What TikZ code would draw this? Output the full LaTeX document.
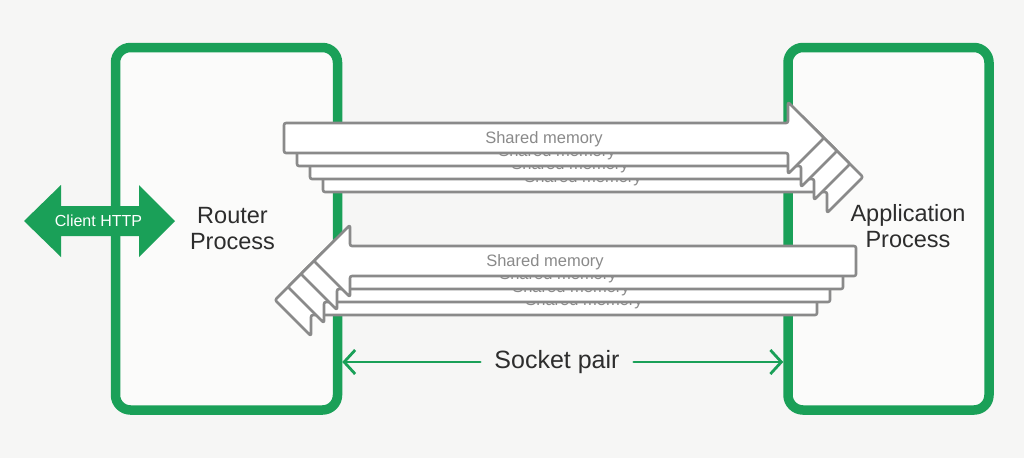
\documentclass[tikz,border=0pt]{standalone}
\usepackage{fontspec}
\setmainfont{Liberation Sans}
\usepackage{xcolor}
\usetikzlibrary{positioning,arrows.meta}

\definecolor{procgreen}{RGB}{26,160,88}
\definecolor{memgray}{RGB}{138,138,138}
\definecolor{pagebg}{RGB}{246,246,245}
\definecolor{boxbg}{RGB}{251,251,250}
\definecolor{labelgray}{RGB}{45,45,45}

\begin{document}
\begin{tikzpicture}[
    x=1pt, y=-1pt,
    procbox/.style={
        rectangle, draw=procgreen, line width=9.5pt, rounded corners=15pt,
        fill=boxbg
    },
    proclabel/.style={align=center, text=labelgray, font=\fontsize{23.5}{26}\selectfont},
    memarrow/.style={draw=memgray, fill=white, line width=2.6pt, rounded corners=2pt, line join=round},
    memtext/.style={text=memgray, font=\fontsize{16.5}{18}\selectfont, inner sep=0pt},
    sockarrow/.style={-{Straight Barb[length=11pt,width=24pt]}, draw=procgreen,
        line width=2.8pt, line cap=round, line join=round}
]
\fill[pagebg] (0,0) rectangle (1024,458);
\useasboundingbox (0,0) rectangle (1024,458);

% the two processes
\node[procbox, minimum width=222pt, minimum height=362.5pt] (router) at (226.5,228.75) {};
\node[procbox, minimum width=201pt, minimum height=362.5pt] (app) at (888.5,228.75) {};
\node[proclabel] (routerlbl) at (232.5,229) {Router\\Process};
\node[proclabel] (applbl) at (908,226) {Application\\Process};

% client side
\fill[procgreen] (24,221) -- (61,185) -- (61,206) -- (139,206) -- (139,185) -- (175,221)
    -- (139,257) -- (139,236) -- (61,236) -- (61,257) -- cycle;
\node[text=white, font=\fontsize{16}{18}\selectfont] (client) at (98.5,221) {Client HTTP};

% shared memory, router -> application
\foreach \k in {3,2,1,0} {
    \draw[memarrow, shift={(13*\k,13*\k)}] (284,123) -- (788,123) -- (788,102) -- (824,138)
        -- (788,174) -- (788,153) -- (284,153) -- cycle;
    \node[memtext] (toapp\k) at (544+13*\k,139+13*\k) {Shared memory};
}

% shared memory, application -> router
\foreach \k in {3,2,1,0} {
    \draw[memarrow, shift={(-13*\k,13*\k)}] (856,246) -- (350,246) -- (350,225) -- (314,261)
        -- (350,297) -- (350,276) -- (856,276) -- cycle;
    \node[memtext] (torouter\k) at (545+13*\k,262+13*\k) {Shared memory};
}

% socket pair
\node[text=labelgray, font=\fontsize{25}{28}\selectfont, inner xsep=14pt] (sock) at (557,362) {Socket pair};
\draw[sockarrow] (sock.west) -- (router.east |- sock.west);
\draw[sockarrow] (sock.east) -- (app.west |- sock.east);
\end{tikzpicture}
\end{document}
